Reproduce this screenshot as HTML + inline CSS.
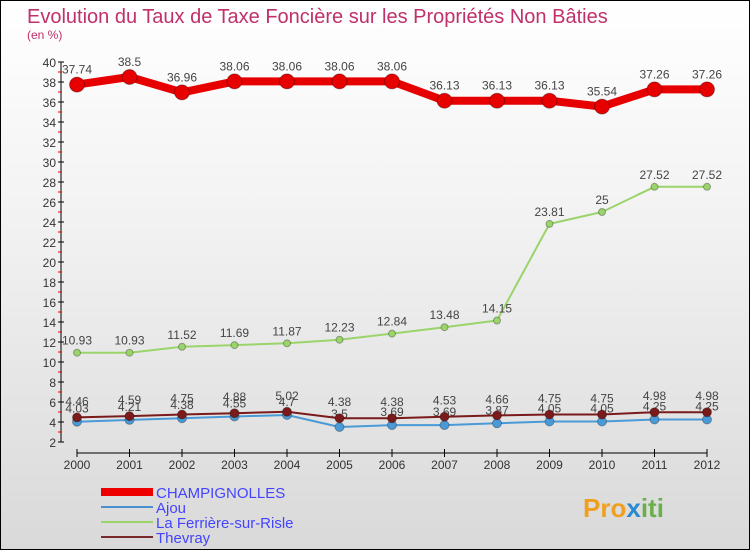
<!DOCTYPE html>
<html><head><meta charset="utf-8"><style>
body{margin:0;}
#c{width:748px;height:548px;border:1px solid #000;background:linear-gradient(#fff 0%,#f2f2f2 40%,#d9d9d9 100%);position:relative;font-family:"Liberation Sans",sans-serif;overflow:hidden}
</style></head><body>
<div id="c">
<svg id="s" width="748" height="548" xmlns="http://www.w3.org/2000/svg">
<text x="26" y="22" font-size="20" fill="#c0306a">Evolution du Taux de Taxe Foncière sur les Propriétés Non Bâties</text>
<text x="26" y="38" font-size="12" fill="#c0306a">(en %)</text>
<g id="axes"></g><g id="series"></g>
<g>
<rect x="100" y="487" width="52" height="8" fill="#e00"/>
<text x="155" y="497" font-size="15" fill="#4444ff">CHAMPIGNOLLES</text>
<line x1="100" y1="506" x2="152" y2="506" stroke="#4a90d0" stroke-width="2"/>
<text x="155" y="512" font-size="15" fill="#4444ff">Ajou</text>
<line x1="100" y1="521" x2="152" y2="521" stroke="#9ad46a" stroke-width="2"/>
<text x="155" y="527" font-size="15" fill="#4444ff">La Ferrière-sur-Risle</text>
<line x1="100" y1="536" x2="152" y2="536" stroke="#7a2a2a" stroke-width="2"/>
<text x="155" y="542" font-size="15" fill="#4444ff">Thevray</text>
</g>
<text x="582" y="516" font-size="26" font-weight="bold" fill="#f0a020">Pro<tspan fill="#2a8ad0">x</tspan><tspan fill="#6ab04a">iti</tspan></text>
</svg>
</div>
<script>
const years=[2000,2001,2002,2003,2004,2005,2006,2007,2008,2009,2010,2011,2012];
const champ=[37.74,38.5,36.96,38.06,38.06,38.06,38.06,36.13,36.13,36.13,35.54,37.26,37.26];
const ajou=[4.03,4.21,4.38,4.55,4.7,3.5,3.69,3.69,3.87,4.05,4.05,4.25,4.25];
const ferr=[10.93,10.93,11.52,11.69,11.87,12.23,12.84,13.48,14.15,23.81,25,27.52,27.52];
const thev=[4.46,4.59,4.75,4.88,5.02,4.38,4.38,4.53,4.66,4.75,4.75,4.98,4.98];
const yTicks=[2,4,6,8,10,12,14,16,18,20,22,24,26,28,30,32,34,36,38,40];
const NS="http://www.w3.org/2000/svg";
const X=i=>76+i*52.5, Y=v=>61+(40-v)*10;
function mk(t,a,p){const e=document.createElementNS(NS,t);for(const k in a)e.setAttribute(k,a[k]);p.appendChild(e);return e;}
const ax=document.getElementById('axes');
let l=mk('line',{x1:60,y1:61,x2:60,y2:441,stroke:'#000'},ax);


yTicks.forEach(v=>{
 mk('line',{x1:57,y1:Y(v),x2:63,y2:Y(v),stroke:'#000'},ax);
 if(v<40) mk('line',{x1:57,y1:Y(v+1),x2:61,y2:Y(v+1),stroke:'#e00'},ax);
 const t=mk('text',{x:55,y:Y(v)+5,'font-size':12,'text-anchor':'end',fill:'#333'},ax);t.textContent=v;
 
 
});
l=mk('line',{x1:X(0),y1:452,x2:X(12),y2:452,stroke:'#000'},ax);


years.forEach((y,i)=>{
 mk('line',{x1:X(i),y1:448,x2:X(i),y2:456,stroke:'#000'},ax);
 const t=mk('text',{x:X(i),y:468,'font-size':12,'text-anchor':'middle',fill:'#333'},ax);t.textContent=y;
 
 
});
const sg=document.getElementById('series');
function series(name,data,color,w,r,dy){
 const g=mk('g',{},sg);
 
 
 const p=mk('polyline',{points:data.map((v,i)=>X(i)+','+Y(v)).join(' '),fill:'none',stroke:color,'stroke-width':w,'stroke-linejoin':'round'},g);
 
 
 data.forEach((v,i)=>{
  const c=mk('circle',{cx:X(i),cy:Y(v),r:r,fill:color,stroke:'rgba(0,0,0,0.3)'},g);
  
  
  const t=mk('text',{x:X(i),y:Y(v)+dy,'font-size':12,'text-anchor':'middle',fill:'#444'},g);t.textContent=v;
  
  
 });
}
series('la-ferriere',ferr,'#9ad46a',2,3.5,-8);
series('ajou',ajou,'#4a9ad8',2,4.5,-9);
series('thevray',thev,'#7a1a1a',2,4.5,-12);
series('champignolles',champ,'#e60000',8,7.5,-11);
</script>
</body></html>
